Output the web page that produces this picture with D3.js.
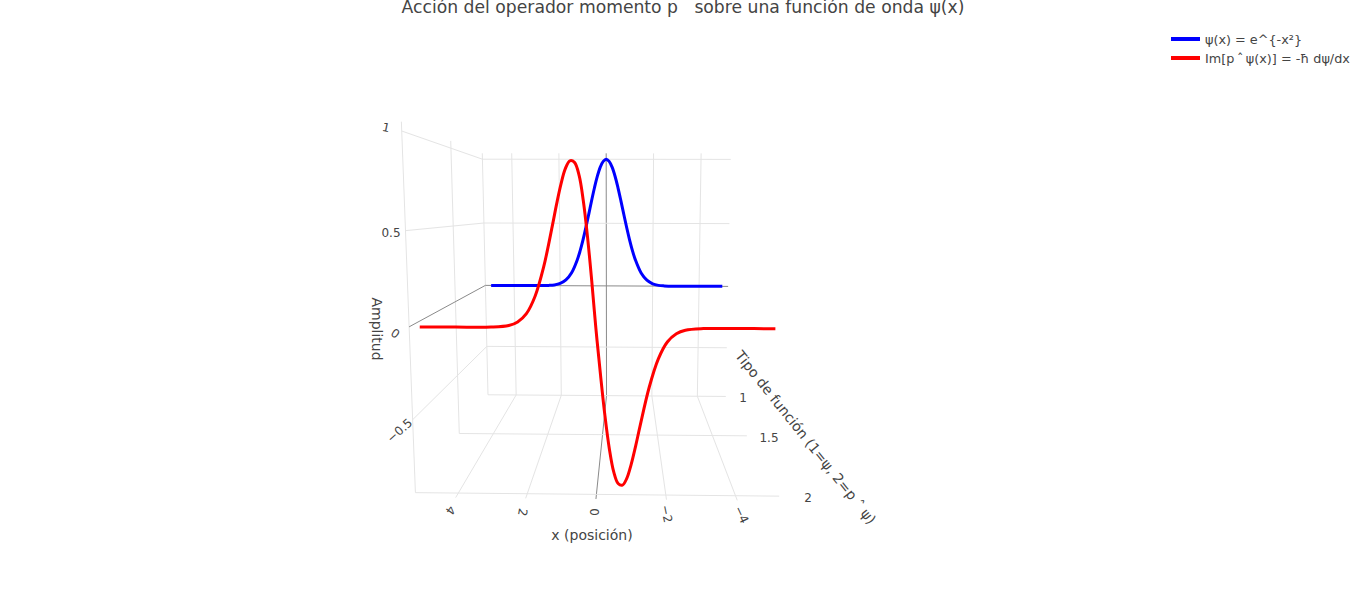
<!DOCTYPE html>
<html><head><meta charset="utf-8"><script src="https://d3js.org/d3.v7.min.js"></script>
<style>body{margin:0;background:#fff}text{font-family:"DejaVu Sans",sans-serif;fill:#444}</style></head>
<body><svg id="c" width="1366" height="599"></svg>
<script>
const xs=[-5,-4,-3,-2.5,-2.25,-2,-1.75,-1.5,-1.25,-1.125,-1,-0.875,-0.75,-0.625,-0.5,-0.375,-0.25,-0.125,0,0.125,0.25,0.375,0.5,0.625,0.75,0.875,1,1.125,1.25,1.5,1.75,2,2.25,2.5,3,4,5];
const xsRed=[-5,-4,-3,-2.5,-2.25,-2,-1.75,-1.5,-1.25,-1.125,-1,-0.875,-0.75,-0.625,-0.5,-0.375,-0.25,-0.125,0,0.11,0.22,0.33,0.44,0.565,0.69,0.815,0.94,1.065,1.19,1.44,1.69,1.94,2.19,2.44,2.94,3.94,4.95];
const psi=[0,0,0,0.002,0.006,0.018,0.047,0.105,0.21,0.282,0.368,0.465,0.57,0.677,0.779,0.869,0.939,0.984,1,0.984,0.939,0.869,0.779,0.677,0.57,0.465,0.368,0.282,0.21,0.105,0.047,0.018,0.006,0.002,0,0,0];
const dpsi=[0,0,-0.001,-0.01,-0.029,-0.073,-0.164,-0.316,-0.524,-0.635,-0.736,-0.814,-0.852,-0.843,-0.779,-0.652,-0.47,-0.246,0,0.246,0.47,0.652,0.779,0.845,0.853,0.814,0.736,0.635,0.524,0.316,0.164,0.073,0.029,0.01,0.001,0,0];
const xTicks=[4,2,0,-2,-4], yTicks=[1,1.5,2], zTicks=[-0.5,0,0.5,1];
const sx=d3.scaleLinear([-5.25,5.25],[0,1]), sy=d3.scaleLinear([1,2],[0,1]), sz=d3.scaleLinear([-0.905,1.046],[0,1]);
const camera=[-234.755,-217.361,-26.700,725.817,0.816,-72.683,-249.720,396.454,0.00630,-0.34743,-0.04346];
const P=(X,Y,Z)=>{const h=camera,a=sx(X),b=sy(Y),c=sz(Z),w=h[8]*a+h[9]*b+h[10]*c+1;return[(h[0]*a+h[1]*b+h[2]*c+h[3])/w,(h[4]*a+h[5]*b+h[6]*c+h[7])/w];};
const svg=d3.select("#c");
const seg=(p,q,col)=>svg.append("path").attr("d",d3.line()([P(...p),P(...q)])).attr("stroke",col).attr("stroke-width",1).attr("fill","none");
const grid="#e4e4e4",zero="#8a8a8a";
const zB=-0.905,zT=1.046,xL=5.25,xR=-5.25;
yTicks.forEach(y=>seg([xL,y,zB],[xL,y,zT],grid));
xTicks.forEach(x=>{seg([x,1,zB],[x,1,zT],x===0?zero:grid);seg([x,1,zB],[x,2.03,zB],x===0?zero:grid);});
zTicks.forEach(z=>{seg([xL,1,z],[xR,1,z],z===0?zero:grid);seg([xL,1,z],[xL,2,z],z===0?zero:grid);});
yTicks.forEach(y=>seg([xL,y,zB],[xR,y,zB],grid));
const ln=d3.line().curve(d3.curveCatmullRom);
svg.append("path").attr("d",ln(xs.map((x,i)=>P(x,1,psi[i])))).attr("stroke","#00f").attr("stroke-width",3).attr("fill","none");
svg.append("path").attr("d",ln(xsRed.map((x,i)=>P(x,2,dpsi[i])))).attr("stroke","#f00").attr("stroke-width",3).attr("fill","none");
const txt=(s,x,y,size,rot,anchor="middle")=>svg.append("text").text(s).attr("transform",`translate(${x},${y}) rotate(${rot})`).attr("font-size",size).attr("text-anchor",anchor).attr("dominant-baseline","middle");
txt("Acción del operador momento p\u00a0\u00a0\u00a0sobre una función de onda ψ(x)",683,8,17.2,0);
txt("x (posición)",592,536,14,0);
txt("Amplitud",376,329,14,90);
txt("Tipo de función (1=ψ, 2=p ˆ ψ)",805,438,14,51.5);
[[ "4",450,510,125],["2",522,512,100],["0",593,512,90],["−2",666,514,78],["−4",741,515,65]].forEach(d=>txt(d[0],d[1],d[2],12,d[3]));
[["1",743,398],["1.5",769,438],["2",808,498]].forEach(d=>txt(d[0],d[1],d[2],12,0));
[["1",386,128,12],["0.5",391,233,0],["0",395,334,35],["−0.5",400,431,-42]].forEach(d=>txt(d[0],d[1],d[2],12,d[3]));
[["#00f","ψ(x) = e^{-x²}",39],["#f00","Im[p\u2009ˆ\u2009ψ(x)] = -ħ dψ/dx",58]].forEach(d=>{svg.append("line").attr("x1",1171).attr("x2",1200).attr("y1",d[2]).attr("y2",d[2]).attr("stroke",d[0]).attr("stroke-width",4);txt(d[1],1205,d[2]+1,12.8,0,"start");});
</script></body></html>
